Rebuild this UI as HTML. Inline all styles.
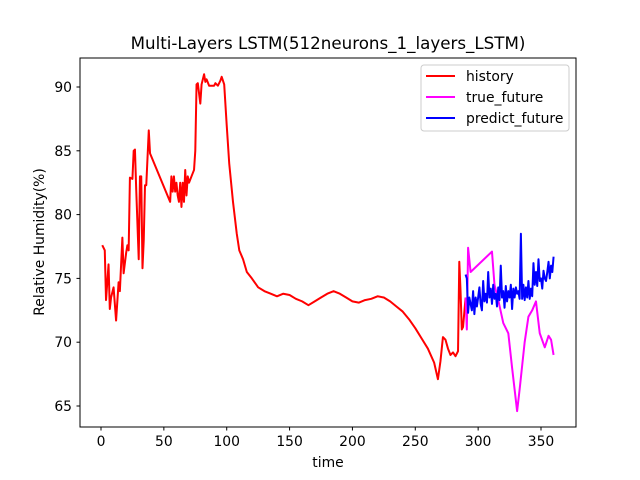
<!DOCTYPE html>
<html><head><meta charset="utf-8"><style>
body{margin:0;background:#fff;}
svg{display:block;font-family:"DejaVu Sans","Liberation Sans",sans-serif;}
</style></head><body>
<svg id="chart" width="640" height="480" xmlns="http://www.w3.org/2000/svg">
<rect width="640" height="480" fill="#fff"/>
<text x="328" y="49" text-anchor="middle" font-size="16.7">Multi-Layers LSTM(512neurons_1_layers_LSTM)</text>
<g id="plot"></g>
<rect x="80" y="58" width="496" height="369" fill="none" stroke="#000" stroke-width="1"/>
<text x="328" y="467" text-anchor="middle" font-size="13.9">time</text>
<text transform="translate(44,242) rotate(-90)" text-anchor="middle" font-size="13.9">Relative Humidity(%)</text>
<g>
<rect x="421" y="65" width="148" height="66" rx="3" fill="#fff" stroke="#ccc"/>
<line x1="426" y1="76" x2="455" y2="76" stroke="#f00" stroke-width="2"/>
<text x="466" y="81" font-size="13.9">history</text>
<line x1="426" y1="97" x2="455" y2="97" stroke="#f0f" stroke-width="2"/>
<text x="466" y="102" font-size="13.9">true_future</text>
<line x1="426" y1="118" x2="455" y2="118" stroke="#00f" stroke-width="2"/>
<text x="466" y="123" font-size="13.9">predict_future</text>
</g>
</svg>
<script>
const xTicks=[0,50,100,150,200,250,300,350];
const yTicks=[65,70,75,80,85,90];
const histX=[1,3,4,6,7,8,10,12,14,15,17,18,20,21,22,23,25,26,27,28,30,31,32,33,34,35,36,38,39,55,56,57,58,59,60,61,62,63,64,65,66,67,68,69,70,72,74,75,76,77,78,79,80,82,83,84,86,90,91,93,95,96,98,100,102,105,108,110,113,116,120,125,130,135,140,145,150,155,160,165,170,175,180,185,190,195,200,205,210,215,220,225,230,235,240,245,250,255,260,265,268,270,272,274,276,278,280,282,284,285,286,287,288,290];
const histY=[77.6,77.2,73.3,76.1,72.6,73.5,74.3,71.7,74.7,74.0,78.2,75.4,77.0,77.6,77.2,82.9,82.8,85.0,85.1,82.0,76.5,83.0,83.0,75.8,78.0,82.3,82.3,86.6,84.8,81.0,83.0,81.8,83.0,81.8,82.5,81.5,81.0,82.5,80.6,82.5,81.0,83.5,81.5,83.0,82.5,83.0,83.5,85.0,90.2,90.3,89.5,88.7,90.2,91.0,90.4,90.6,90.1,90.1,90.3,90.1,90.5,90.8,90.2,87.0,84.0,81.0,78.5,77.2,76.5,75.5,75.0,74.3,74.0,73.8,73.6,73.8,73.7,73.4,73.2,72.9,73.2,73.5,73.8,74.0,73.8,73.5,73.2,73.1,73.3,73.4,73.6,73.5,73.2,72.8,72.4,71.8,71.1,70.3,69.5,68.4,67.1,68.5,70.4,70.2,69.5,69.0,69.2,68.9,69.3,76.3,74.0,71.0,71.2,73.5];
const trueX=[290,291,292,294,311,313,316,320,324,327,331,333,337,340,343,346,349,353,356,358,360];
const trueY=[73.5,71.0,77.4,75.5,77.1,74.5,73.3,71.5,70.7,68.0,64.6,66.3,70.0,72.0,72.5,73.2,70.7,69.6,70.5,70.2,69.0];
const predX0=290;
const predY=[75.3,75.0,72.3,73.5,73.0,72.5,74.0,72.2,73.5,72.8,73.5,74.3,73.0,72.5,74.8,73.2,73.8,73.1,75.5,73.5,74.2,73.0,74.5,73.4,73.8,72.8,74.3,73.3,76.0,73.5,74.0,72.7,74.4,73.2,74.0,73.5,74.5,72.6,74.2,73.5,74.3,73.8,74.0,73.4,78.5,73.4,74.5,73.3,74.3,73.5,74.8,73.4,74.2,73.6,76.2,74.5,75.5,74.4,76.5,74.8,75.0,74.2,75.6,75.0,74.8,75.5,76.3,75.0,76.0,75.5,76.7];
const X=v=>101+(v-0)*(440/350);
const Y=v=>406-(v-65)*(319/25);
const g=document.getElementById('plot');
const NS='http://www.w3.org/2000/svg';
function mk(t,a){const e=document.createElementNS(NS,t);for(const k in a)e.setAttribute(k,a[k]);g.appendChild(e);return e;}
xTicks.forEach(t=>{
 const l=mk('line',{x1:X(t),x2:X(t),y1:427,y2:430.5,stroke:'#000'});
 
 
 const tx=mk('text',{x:X(t),y:446,'text-anchor':'middle','font-size':'13.9'});
 tx.textContent=t;
 
 
});
yTicks.forEach(t=>{
 const l=mk('line',{x1:76.5,x2:80,y1:Y(t),y2:Y(t),stroke:'#000'});
 
 
 const tx=mk('text',{x:72,y:Y(t)+5,'text-anchor':'end','font-size':'13.9'});
 tx.textContent=t;
 
 
});
function line(xs,ys,c,name){
 const p=mk('polyline',{points:xs.map((x,i)=>X(x)+','+Y(ys[i])).join(' '),fill:'none',stroke:c,'stroke-width':2,'stroke-linejoin':'round'});
 
 
}
line(histX,histY,'#f00','history-line');
line(trueX,trueY,'#f0f','true-future-line');
line(predY.map((_,i)=>predX0+i),predY,'#00f','predict-future-line');
</script>
</body></html>
